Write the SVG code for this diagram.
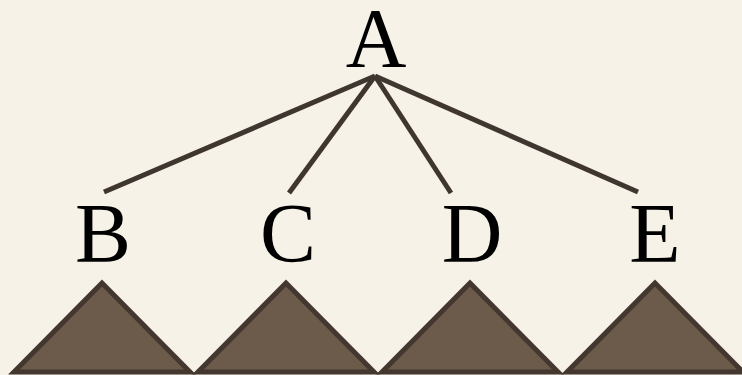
<svg xmlns="http://www.w3.org/2000/svg" width="742" height="375" viewBox="0 0 742 375">
<style>
.lbl{font-family:"Liberation Serif","DejaVu Serif",serif;font-size:84px;fill:#000;text-anchor:middle}
.edge{stroke:#403630;stroke-width:5;stroke-linecap:butt;fill:none}
.tri{fill:#6c5b4a;stroke:#43372f;stroke-width:5;stroke-linejoin:miter}
</style>
<rect width="742" height="375" fill="#f6f2e7"/>
<g id="connectors">
<line class="edge" x1="375" y1="76" x2="104" y2="192"/>
<line class="edge" x1="375" y1="76" x2="289" y2="193"/>
<line class="edge" x1="375" y1="76" x2="451" y2="193"/>
<line class="edge" x1="375" y1="76" x2="638" y2="192"/>
</g>
<g id="A"><text class="lbl" x="376" y="67">A</text></g>
<g id="B"><text class="lbl" x="103" y="262">B</text><polygon class="tri" points="102,283 14,372 190,372"/></g>
<g id="C"><text class="lbl" x="288" y="262">C</text><polygon class="tri" points="286,283 198,372 374,372"/></g>
<g id="D"><text class="lbl" x="472" y="262">D</text><polygon class="tri" points="470,283 382,372 558,372"/></g>
<g id="E"><text class="lbl" x="655" y="262">E</text><polygon class="tri" points="655,283 567,372 743,372"/></g>
</svg>
